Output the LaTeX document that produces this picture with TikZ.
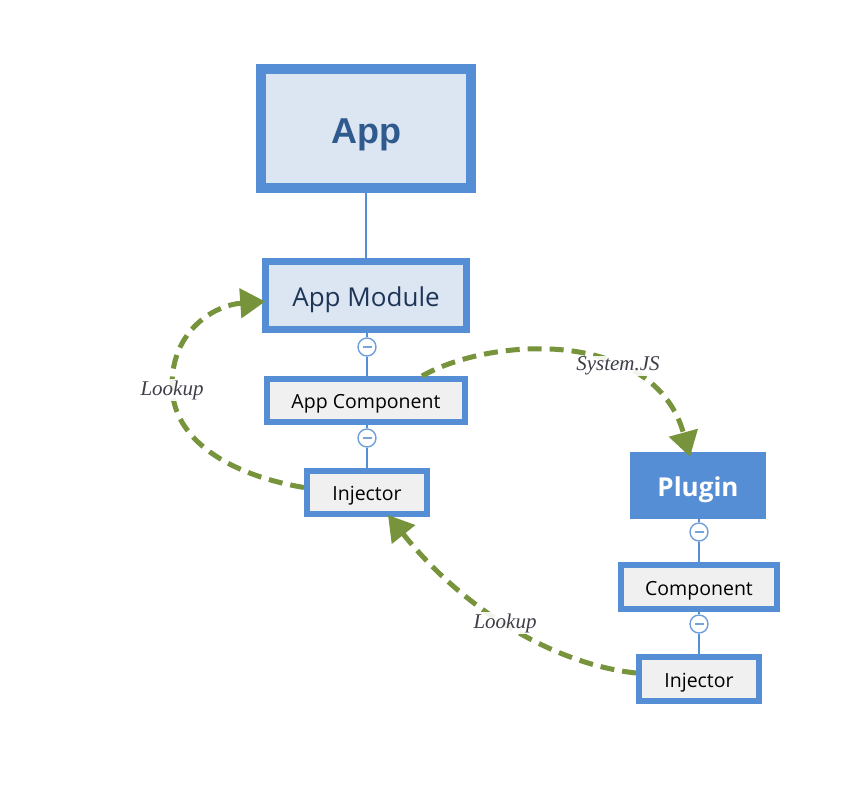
\documentclass[tikz,border=0pt]{standalone}
\usepackage{fontspec}
\setmainfont{Open Sans}
\newfontfamily\arialfont{Liberation Sans}
\newfontfamily\labfont{Liberation Serif}
\usetikzlibrary{arrows.meta}
\definecolor{bblue}{HTML}{558ED5}
\definecolor{lfill}{HTML}{DCE6F2}
\definecolor{gfill}{HTML}{F0F0F0}
\definecolor{gr}{HTML}{77933C}
\definecolor{apptxt}{HTML}{2F5A8E}
\definecolor{modtxt}{HTML}{1F3558}
\definecolor{labtxt}{HTML}{3F3F4A}
\tikzset{
  appbox/.style={draw=bblue, line width=10pt, fill=lfill, minimum width=210pt, minimum height=119pt, inner sep=0pt,
    font=\arialfont\bfseries\fontsize{36}{40}\selectfont, text=apptxt, text height=29.6pt, text depth=0pt},
  modbox/.style={draw=bblue, line width=6.5pt, fill=lfill, minimum width=201pt, minimum height=68pt, inner sep=0pt,
    font=\fontsize{26}{30}\selectfont, text=modtxt, text height=22.4pt, text depth=0pt},
  grbox/.style={draw=bblue, line width=6pt, fill=gfill, inner sep=0pt,
    font=\fontsize{19.5}{24}\selectfont, text=black, text height=16pt, text depth=0pt},
  plugbox/.style={fill=bblue, minimum width=136pt, minimum height=67pt, inner sep=0pt,
    font=\bfseries\fontsize{26}{30}\selectfont, text=white, text height=22.4pt, text depth=0pt},
  knob/.style={circle, draw=bblue!85, line width=1.4pt, fill=white, minimum size=18pt, inner sep=0pt,
    path picture={\draw[bblue!80, line width=1.6pt] ([xshift=-4.5pt]path picture bounding box.center) -- ([xshift=4.5pt]path picture bounding box.center);}},
  conn/.style={draw=bblue, line width=1.8pt},
  garrow/.style={draw=gr, line width=5pt, dash pattern=on 14pt off 8pt, -{Triangle[length=25pt,width=29pt]}, color=gr},
  lab/.style={font=\labfont\itshape\fontsize{21}{24}\selectfont, text=labtxt, fill=white, fill opacity=0.9, text opacity=1, inner sep=1pt}
}
\begin{document}
\begin{tikzpicture}[x=1pt,y=-1pt]
\useasboundingbox (0,0) rectangle (864,804);
% left column
\node[appbox] (app) at (366,128.5) {App};
\node[modbox] (mod) at (366,295.5) {App Module};
\node[grbox, minimum width=198pt, minimum height=43pt] (comp) at (366,400.5) {App Component};
\node[grbox, minimum width=120pt, minimum height=43pt] (inj) at (367,492.5) {Injector};
\node[knob] (k1) at (367,347) {};
\node[knob] (k2) at (367,438) {};
% right column
\node[plugbox] (plug) at (698,485.5) {Plugin};
\node[grbox, minimum width=156pt, minimum height=44pt] (pcomp) at (699,587) {Component};
\node[grbox, minimum width=120pt, minimum height=44pt] (pinj) at (699,679) {Injector};
\node[knob] (k3) at (699,532) {};
\node[knob] (k4) at (699,624) {};
% connectors
\path[conn] (app.south) -- (mod.north);
\path[conn] (mod.south -| k1) -- (k1.north);
\path[conn] (k1.south) -- (comp.north -| k1);
\path[conn] (comp.south -| k2) -- (k2.north);
\path[conn] (k2.south) -- (inj.north);
\path[conn] (plug.south -| k3) -- (k3.north);
\path[conn] (k3.south) -- (pcomp.north -| k3);
\path[conn] (pcomp.south -| k4) -- (k4.north);
\path[conn] (k4.south) -- (pinj.north -| k4);
% green arrows
\draw[garrow] ([yshift=5pt]inj.west) .. controls (230,475) and (172,440) .. (172,385)
   .. controls (172,330) and (215,305) .. ([xshift=3pt,yshift=-6pt]mod.west);
\node[lab] (l1) at (172,390) {Lookup};
\draw[garrow] ([xshift=56pt]comp.north) .. controls (495,335) and (655,330) .. ([xshift=-8pt,yshift=-5pt]plug.north);
\node[lab] (l2) at (618,366) {System.JS};
\draw[garrow] ([yshift=6pt]pinj.west) .. controls (560,665) and (468,615) .. ([xshift=21pt,yshift=2pt]inj.south);
\node[lab] (l3) at (505,623) {Lookup};
\end{tikzpicture}
\end{document}
